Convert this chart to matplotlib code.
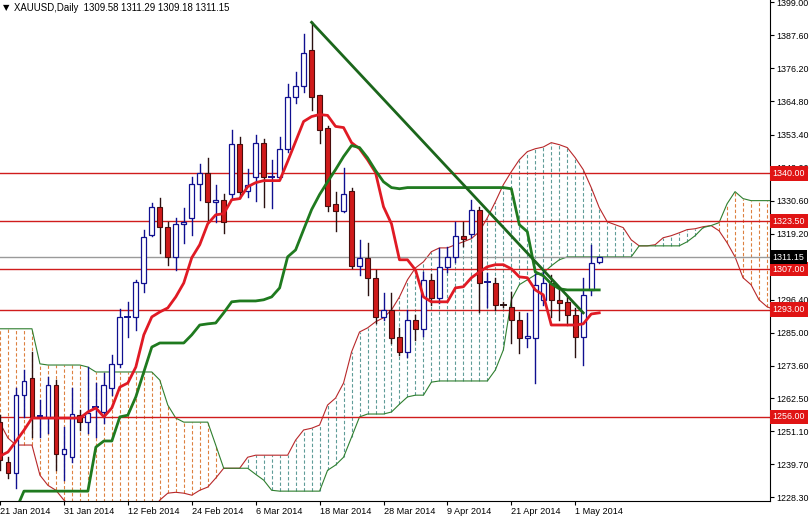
import numpy as np
import matplotlib
matplotlib.use('Agg')
import matplotlib.pyplot as plt
import matplotlib.transforms as mtransforms

plt.rcParams['font.family'] = ['Liberation Sans', 'DejaVu Sans']

# ---- data ----
date_labels = ['21 Jan 2014', '31 Jan 2014', '12 Feb 2014', '24 Feb 2014', '6 Mar 2014',
               '18 Mar 2014', '28 Mar 2014', '9 Apr 2014', '21 Apr 2014', '1 May 2014']
date_pos = [0, 8, 16, 24, 32, 40, 48, 56, 64, 72]

opens = [1254.2, 1240.4, 1236.6, 1263.5, 1269.4, 1256.1, 1255.9, 1267.0, 1243.2, 1242.1,
         1256.6, 1254.2, 1259.1, 1257.7, 1266.0, 1274.3, 1290.3, 1290.5, 1302.2, 1318.8,
         1328.5, 1321.6, 1311.2, 1322.6, 1324.7, 1336.5, 1340.3, 1330.2, 1330.9, 1333.0,
         1350.3, 1334.0, 1338.9, 1350.6, 1338.7, 1338.9, 1348.5, 1366.5, 1370.0, 1382.4,
         1366.9, 1355.5, 1329.5, 1327.1, 1334.0, 1308.1, 1310.9, 1304.0, 1290.5, 1292.9,
         1283.6, 1278.4, 1289.5, 1286.4, 1303.3, 1297.1, 1307.8, 1311.2, 1318.5, 1319.2,
         1327.5, 1302.2, 1302.2, 1295.0, 1294.0, 1289.5, 1283.2, 1283.2, 1296.4, 1302.2,
         1296.4, 1295.7, 1291.2, 1283.6, 1299.8, 1309.58]
highs = [1256.6, 1242.1, 1266.0, 1272.2, 1278.4, 1261.8, 1269.8, 1268.7, 1252.5, 1266.0,
         1258.4, 1273.2, 1267.7, 1271.1, 1277.4, 1293.3, 1295.7, 1303.3, 1320.6, 1329.9,
         1331.6, 1323.3, 1324.7, 1328.2, 1338.9, 1343.4, 1345.4, 1336.1, 1333.0, 1354.8,
         1352.4, 1341.6, 1353.4, 1351.7, 1344.7, 1352.4, 1370.7, 1374.8, 1388.0, 1392.1,
         1367.2, 1356.2, 1333.7, 1342.0, 1335.1, 1317.1, 1316.1, 1306.7, 1298.8, 1298.8,
         1286.7, 1292.9, 1291.2, 1306.0, 1305.4, 1314.3, 1314.7, 1323.3, 1323.3, 1330.9,
         1328.5, 1305.7, 1304.0, 1295.7, 1299.1, 1292.2, 1291.9, 1305.4, 1306.7, 1305.0,
         1299.8, 1297.8, 1293.6, 1304.0, 1315.4, 1311.29]
lows = [1237.6, 1234.9, 1231.4, 1255.9, 1249.0, 1249.0, 1250.4, 1237.6, 1234.2, 1240.4,
        1251.5, 1250.4, 1249.0, 1253.9, 1263.5, 1273.2, 1283.6, 1286.0, 1299.1, 1318.5,
        1312.6, 1308.5, 1306.7, 1316.1, 1318.8, 1330.9, 1323.3, 1323.3, 1319.5, 1331.3,
        1331.6, 1332.0, 1330.6, 1328.5, 1328.2, 1338.2, 1347.5, 1364.4, 1367.9, 1362.0,
        1350.6, 1327.1, 1320.2, 1326.8, 1307.4, 1305.0, 1298.1, 1288.4, 1289.5, 1281.5,
        1277.4, 1276.7, 1282.6, 1283.9, 1294.6, 1295.3, 1306.0, 1309.5, 1315.0, 1318.1,
        1292.2, 1294.0, 1292.9, 1294.0, 1281.5, 1278.1, 1280.1, 1267.7, 1294.6, 1290.5,
        1289.5, 1287.7, 1276.7, 1273.9, 1298.1, 1309.18]
closes = [1241.1, 1236.6, 1263.5, 1268.4, 1255.9, 1256.3, 1267.0, 1243.2, 1244.9, 1257.0,
          1254.2, 1257.3, 1259.4, 1267.0, 1274.3, 1290.5, 1290.5, 1302.6, 1318.1, 1328.5,
          1321.6, 1311.2, 1322.6, 1323.3, 1336.5, 1340.3, 1330.2, 1330.9, 1323.3, 1350.3,
          1333.7, 1336.1, 1350.6, 1338.9, 1338.9, 1348.5, 1366.5, 1370.0, 1381.4, 1366.5,
          1355.1, 1328.9, 1327.1, 1333.0, 1308.1, 1310.9, 1304.0, 1290.5, 1292.9, 1283.2,
          1278.4, 1289.5, 1286.4, 1303.3, 1297.1, 1307.8, 1311.2, 1318.5, 1317.5, 1327.5,
          1302.2, 1302.6, 1294.6, 1294.6, 1289.5, 1283.2, 1283.9, 1301.6, 1302.2, 1296.4,
          1295.3, 1291.2, 1283.6, 1298.1, 1309.2, 1311.15]

tenkan = [1242.5, 1243.9, 1247.6, 1251.4, 1255.6, 1255.6, 1255.6, 1255.6, 1255.6, 1255.6,
          1255.6, 1257.7, 1259.1, 1256.0, 1259.1, 1266.3, 1267.7, 1273.2, 1284.3, 1290.5,
          1292.2, 1293.6, 1297.4, 1302.2, 1310.9, 1315.4, 1322.6, 1325.7, 1326.1, 1330.9,
          1331.3, 1335.4, 1336.8, 1337.5, 1337.5, 1337.5, 1344.1, 1351.0, 1357.9, 1359.6,
          1360.3, 1360.0, 1356.2, 1355.8, 1350.6, 1348.5, 1344.7, 1340.3, 1328.5, 1322.6,
          1310.2, 1310.2, 1306.7, 1297.4, 1295.7, 1295.7, 1295.7, 1300.5, 1300.9, 1304.0,
          1306.0, 1307.8, 1308.5, 1308.5, 1307.1, 1304.3, 1304.0, 1299.8, 1298.1, 1287.7,
          1287.7, 1287.7, 1287.7, 1288.1, 1291.5, 1291.9]
kijun = [1224.0, 1224.0, 1224.0, 1230.4, 1230.4, 1230.4, 1230.4, 1230.4, 1230.4, 1230.4,
         1230.4, 1230.4, 1245.6, 1247.7, 1247.7, 1256.0, 1256.6, 1262.9, 1271.5, 1280.1,
         1281.5, 1281.5, 1281.5, 1281.5, 1284.3, 1287.7, 1288.1, 1288.4, 1291.9, 1295.7,
         1296.0, 1296.0, 1296.0, 1296.4, 1297.4, 1300.5, 1311.2, 1313.6, 1320.6, 1327.5,
         1332.7, 1337.1, 1341.3, 1345.8, 1349.6, 1348.9, 1345.4, 1341.0, 1337.1, 1335.1,
         1334.7, 1335.1, 1335.1, 1335.1, 1335.1, 1335.1, 1335.1, 1335.1, 1335.1, 1335.1,
         1335.1, 1335.1, 1335.1, 1335.1, 1334.7, 1322.3, 1319.9, 1306.0, 1304.7, 1301.9,
         1300.2, 1299.8, 1299.8, 1299.8, 1299.8, 1299.8]

# cloud, already shifted 26 bars forward
span_a = [1253.9, 1248.7, 1246.3, 1246.3, 1246.3, 1235.9, 1232.4, 1230.7, 1227.3, 1225.0,
          1223.0, 1223.0, 1223.0, 1223.0, 1223.0, 1223.0, 1223.0, 1223.0, 1223.0, 1223.0,
          1227.3, 1229.7, 1230.0, 1229.7, 1229.0, 1230.7, 1231.8, 1234.9, 1238.3, 1238.3,
          1238.3, 1242.1, 1242.8, 1242.8, 1242.8, 1242.8, 1242.8, 1248.0, 1251.5, 1252.1,
          1253.2, 1260.1, 1262.5, 1267.7, 1278.4, 1285.3, 1286.7, 1288.8, 1290.2, 1292.9,
          1297.4, 1303.3, 1307.4, 1309.5, 1313.0, 1314.3, 1314.3, 1315.4, 1316.4, 1317.5,
          1319.9, 1324.7, 1330.2, 1336.1, 1340.6, 1344.7, 1347.5, 1348.5, 1349.1, 1350.6,
          1349.9, 1348.9, 1345.4, 1341.3, 1335.1, 1328.2, 1323.3, 1322.3, 1321.3, 1317.1,
          1315.0, 1315.0, 1315.4, 1317.8, 1318.5, 1319.5, 1320.6, 1320.9, 1321.6, 1322.0,
          1320.2, 1316.1, 1311.2, 1304.0, 1301.6, 1296.4, 1294.0, 1292.9]
span_b = [1286.4, 1286.4, 1286.4, 1286.4, 1286.4, 1274.3, 1273.9, 1273.9, 1273.9, 1273.9,
          1273.9, 1273.2, 1271.5, 1271.5, 1271.5, 1271.5, 1271.5, 1271.5, 1271.5, 1271.5,
          1268.7, 1260.1, 1255.6, 1254.2, 1254.2, 1254.2, 1254.2, 1246.3, 1238.3, 1238.3,
          1238.3, 1238.3, 1236.2, 1234.2, 1230.7, 1230.4, 1230.4, 1230.4, 1230.4, 1230.4,
          1230.4, 1237.6, 1239.4, 1242.1, 1249.0, 1256.0, 1257.0, 1257.0, 1257.0, 1257.7,
          1260.4, 1262.9, 1263.5, 1263.5, 1268.0, 1268.4, 1268.4, 1268.4, 1268.4, 1268.4,
          1268.4, 1268.4, 1272.2, 1279.1, 1296.4, 1301.6, 1303.3, 1305.0, 1305.7, 1308.1,
          1310.2, 1311.2, 1311.2, 1311.2, 1311.2, 1311.2, 1311.2, 1311.2, 1311.2, 1311.2,
          1315.0, 1315.0, 1315.0, 1315.0, 1315.0, 1315.0, 1316.4, 1318.5, 1321.3, 1322.0,
          1323.0, 1329.5, 1333.7, 1331.3, 1330.6, 1330.6, 1330.6, 1330.6]

levels = [1340.00, 1323.50, 1307.00, 1293.00, 1256.00]
bid = 1311.15
trend_idx = [39, 73]
trend_px = [1392.1, 1291.9]
price_ticks = [1228.30, 1239.70, 1251.10, 1262.50, 1273.60, 1285.00, 1296.40, 1319.20,
               1330.60, 1342.00, 1353.40, 1364.80, 1376.20, 1387.60, 1399.00]

fig = plt.figure(figsize=(8.1, 5.16), dpi=100)
ax = fig.add_axes([0, 15 / 516, 770 / 810, 501 / 516])
ax.set_xlim(0.125, 96.375)
ax.set_ylim(1227.0, 1399.8)

# ichimoku cloud hatching
n_cloud = len(span_a)
for i in range(n_cloud):
    a, b = span_a[i], span_b[i]
    col = '#5f9c98' if a >= b else '#dd8040'
    ax.plot([i, i], [min(a, b), max(a, b)], color=col, lw=0.8,
            ls=(0, (3, 2)), zorder=1)
ax.plot(range(n_cloud), span_a, color='#b8282a', lw=0.8, zorder=1.5)
ax.plot(range(n_cloud), span_b, color='#2f7f2f', lw=0.8, zorder=1.5)

# levels
for lv in levels:
    ax.axhline(lv, color='#d01c1c', lw=1.0, zorder=2)
ax.axhline(bid, color='#9a9a9a', lw=1.0, zorder=2)

# candles
n = len(opens)
x = np.arange(n)
for i in range(n):
    o, h, l, c = opens[i], highs[i], lows[i], closes[i]
    bull = c >= o
    wick_col = '#101090' if bull else '#2a1010'
    ax.plot([i, i], [l, h], color=wick_col, lw=1.0, zorder=3)
    if abs(c - o) < 0.6:
        ax.plot([i - 0.3, i + 0.3], [c, c], color=wick_col, lw=1.4, zorder=4)
    elif bull:
        ax.bar(i, c - o, bottom=o, width=0.6, facecolor='white',
               edgecolor='#101090', lw=0.9, zorder=4)
    else:
        ax.bar(i, o - c, bottom=c, width=0.6, facecolor='#d01a1a',
               edgecolor='#4a0c0c', lw=0.8, zorder=4)

# tenkan / kijun
ax.plot(x, tenkan, color='#e01a24', lw=2.0, zorder=5)
ax.plot(x, kijun, color='#1f7a1f', lw=2.0, zorder=5)

# trend line
ax.plot(trend_idx, trend_px, color='#1b661b', lw=2.0, zorder=6)

# axes styling
for side in ['top', 'left']:
    ax.spines[side].set_visible(False)
ax.spines['right'].set_color('black')
ax.spines['bottom'].set_color('black')
ax.yaxis.tick_right()
ax.set_yticks(price_ticks)
ax.set_yticklabels([f'{p:.2f}' for p in price_ticks])
ax.tick_params(axis='y', direction='out', length=3, pad=1.5, labelsize=6.4, colors='black')
ax.set_xticks(date_pos)
ax.set_xticklabels(date_labels)
ax.tick_params(axis='x', direction='out', length=3, pad=1, labelsize=6.6)
for t in ax.get_xticklabels():
    t.set_ha('left')

# price boxes at the right
trans = mtransforms.blended_transform_factory(ax.transAxes, ax.transData)
for lv in levels:
    ax.text(1.0035, lv, f'{lv:.2f}', transform=trans, ha='left', va='center',
            fontsize=6.4, color='white', clip_on=False, zorder=10,
            bbox=dict(boxstyle='square,pad=0.3', fc='#e01414', ec='none'))
ax.text(1.0035, bid, f'{bid:.2f}', transform=trans, ha='left', va='center',
        fontsize=6.4, color='white', clip_on=False, zorder=10,
        bbox=dict(boxstyle='square,pad=0.3', fc='black', ec='none'))

# title
fig.text(3 / 810, 1 - 8 / 516, '\u25bc', fontsize=6, va='center', ha='left',
         family=['DejaVu Sans'])
fig.text(14 / 810, 1 - 8 / 516, 'XAUUSD,Daily  1309.58 1311.29 1309.18 1311.15',
         fontsize=6.9, va='center', ha='left', color='black')

fig.savefig('out.png', dpi=100)
